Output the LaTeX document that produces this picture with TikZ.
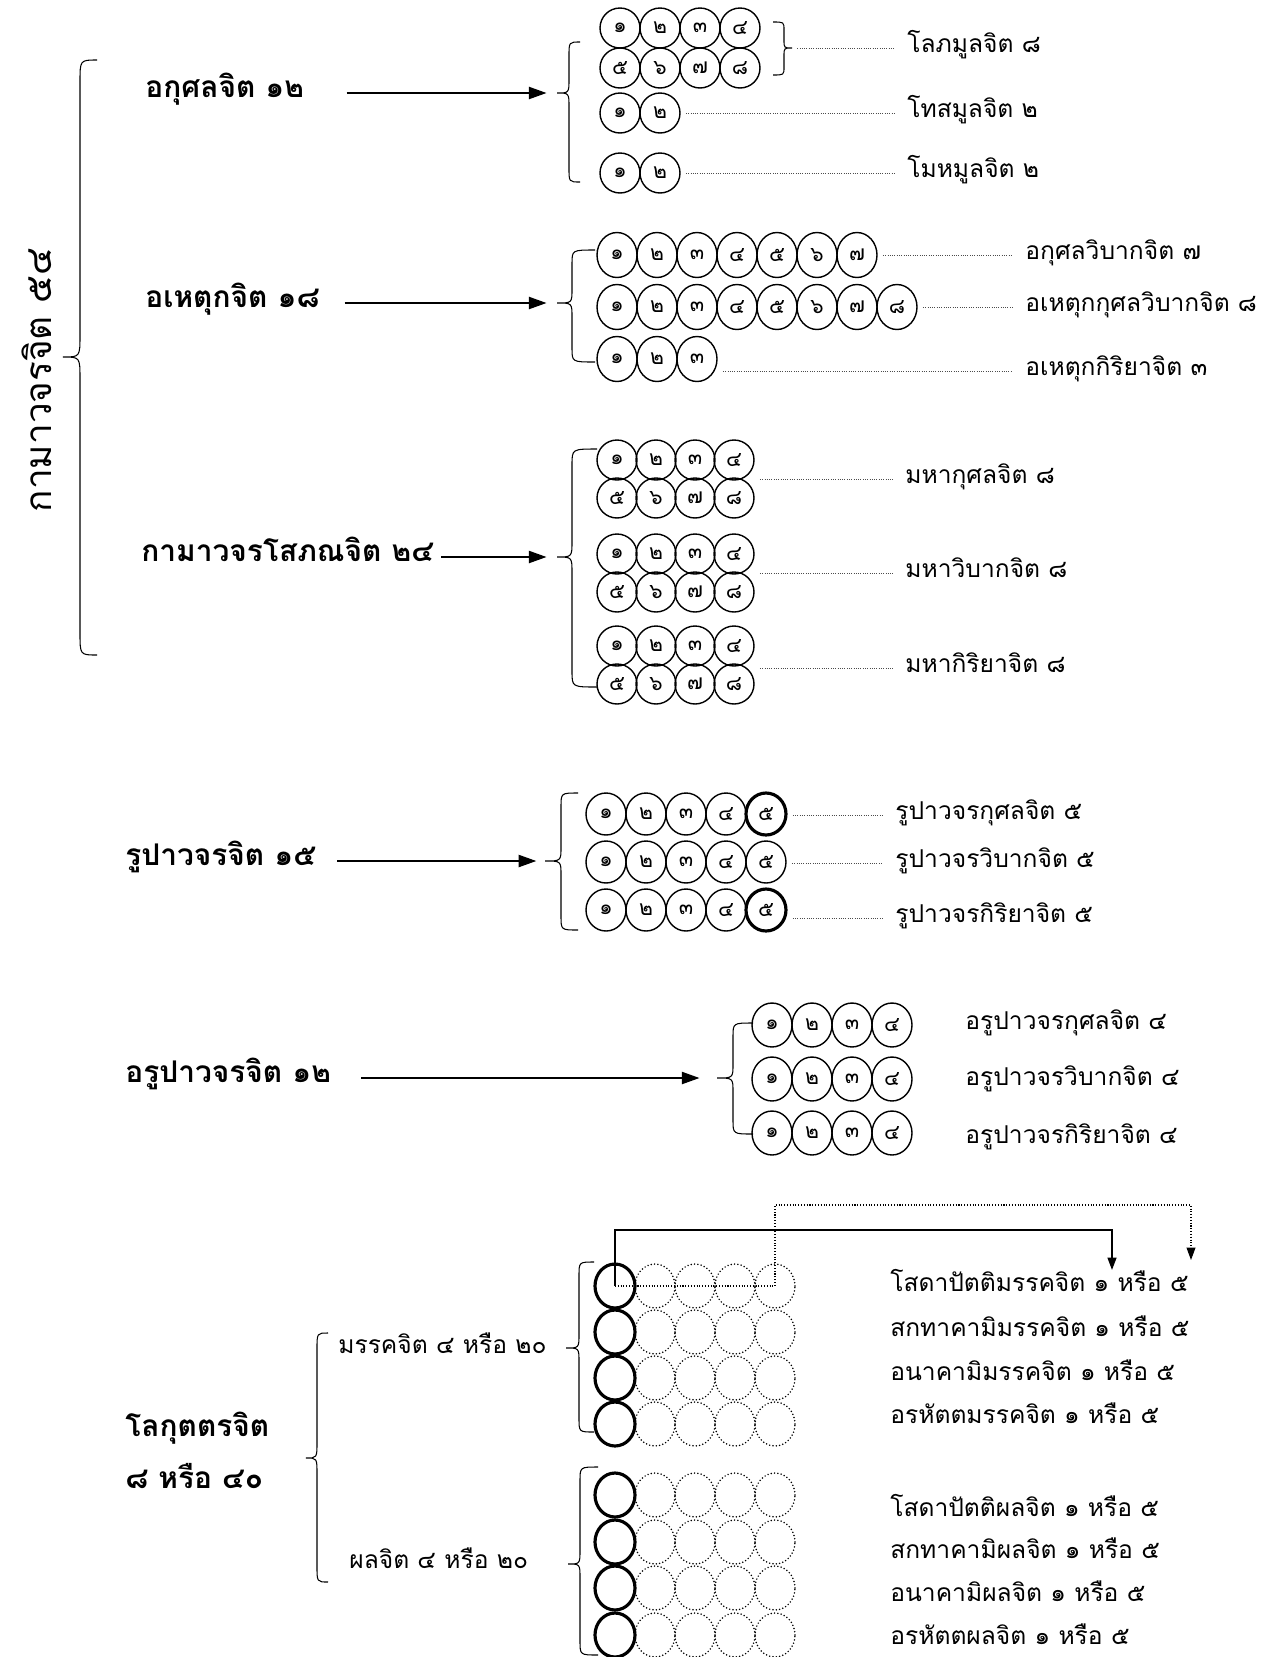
\documentclass[tikz,border=0pt]{standalone}
\usepackage{fontspec}
\setmainfont[Script=Thai]{Loma}
\usetikzlibrary{shapes.geometric,arrows.meta,positioning,calc}

% curly brace: end x, arm x, tip x, top y, tip y, bottom y, radius
\newcommand{\brc}[7]{%
  \draw[bline] (#1,#4) .. controls (#2,#4) .. (#2,#4+#7) -- (#2,#5-#7)
    .. controls (#2,#5) .. (#3,#5) .. controls (#2,#5) .. (#2,#5+#7)
    -- (#2,#6-#7) .. controls (#2,#6) .. (#1,#6);}

\begin{document}
\begin{tikzpicture}[x=0.02cm, y=-0.02cm,
        ttl/.style={font=\fontsize{21}{25}\selectfont, rotate=90, inner sep=0},
        cat/.style={font=\fontsize{17}{21}\selectfont\bfseries, anchor=west, inner sep=0, text height=0.8em, text depth=0.25em},
        lbl/.style={font=\fontsize{14}{17}\selectfont, anchor=west, inner sep=0, text height=0.8em, text depth=0.25em},
        num/.style={ellipse, draw, line width=0.8pt, inner sep=0, minimum width=0.8cm, minimum height=#1, font=\fontsize{12}{14}\selectfont},
        num/.default=0.8cm,
        numbold/.style={num=#1, line width=1.8pt}, numbold/.default=0.84cm,
        ghost/.style={num=#1, line width=0.95pt, line cap=round, dash pattern=on 0pt off 1.9pt}, ghost/.default=0.88cm,
        arrow/.style={line width=0.7pt, -{Triangle[length=10pt,width=7pt]}},
        link/.style={line width=1pt, -{Triangle[length=7pt,width=5pt]}},
        dotlink/.style={line width=0.6pt, dash pattern=on 0.6pt off 1pt, -{Triangle[length=7pt,width=5pt]}},
        leader/.style={line width=0.5pt, black!70, dash pattern=on 0.5pt off 0.8pt, shorten <=3pt, shorten >=7pt},
        bline/.style={line width=0.6pt}
    ]
    \useasboundingbox (0,0) rectangle (1270,1657);

    % outer title
    \node[ttl] (kama) at (37,380) {กามาวจรจิต ๕๔};
    \brc{97}{80}{63}{60}{357}{655}{22}

    % akusala
    \node[cat] (akusala) at (145,93) {อกุศลจิต ๑๒};
    \coordinate (tipA) at (557,93);
    \brc{580}{569}{557}{42}{93}{182}{14}
    \draw[arrow, shorten <=24pt, shorten >=6pt] (akusala.east) -- (tipA);
    \foreach \d [count=\i] in {๑,๒,๓,๔} \node[num] (a1-\i) at ({580+40*\i},28) {\d};
    \foreach \d [count=\i] in {๕,๖,๗,๘} \node[num] (a2-\i) at ({580+40*\i},68) {\d};
    \foreach \d [count=\i] in {๑,๒} \node[num] (a3-\i) at ({580+40*\i},113) {\d};
    \foreach \d [count=\i] in {๑,๒} \node[num] (a4-\i) at ({580+40*\i},173) {\d};
    \brc{773}{784}{792}{22}{48}{75}{8}
    \coordinate (brA) at (792,48);
    \node[lbl] (lobha) at (907,48) {โลภมูลจิต ๘};
    \node[lbl] (dosa) at (907,113) {โทสมูลจิต ๒};
    \node[lbl] (moha) at (907,173) {โมหมูลจิต ๒};
    \draw[leader] (brA) -- (lobha.west);
    \draw[leader] (a3-2.east |- dosa.west) -- (dosa.west);
    \draw[leader] (a4-2.east |- moha.west) -- (moha.west);

    % ahetuka
    \node[cat] (ahetuka) at (145,303) {อเหตุกจิต ๑๘};
    \coordinate (tipB) at (557,303);
    \brc{595}{572}{557}{250}{303}{362}{14}
    \draw[arrow, shorten <=14pt, shorten >=6pt] (ahetuka.east) -- (tipB);
    \foreach \d [count=\i] in {๑,๒,๓,๔,๕,๖,๗} \node[num=0.9cm] (b1-\i) at ({577+40*\i},255) {\d};
    \foreach \d [count=\i] in {๑,๒,๓,๔,๕,๖,๗,๘} \node[num=0.9cm] (b2-\i) at ({577+40*\i},307) {\d};
    \foreach \d [count=\i] in {๑,๒,๓} \node[num=0.9cm] (b3-\i) at ({577+40*\i},359) {\d};
    \node[lbl] (akvip) at (1025,255) {อกุศลวิบากจิต ๗};
    \node[lbl] (ahkvip) at (1025,307) {อเหตุกกุศลวิบากจิต ๘};
    \node[lbl] (ahkir) at (1025,371) {อเหตุกกิริยาจิต ๓};
    \draw[leader] (b1-7.east |- akvip.west) -- (akvip.west);
    \draw[leader] (b2-8.east |- ahkvip.west) -- (ahkvip.west);
    \draw[leader] (b3-3.east |- ahkir.west) -- (ahkir.west);

    % sobhana
    \node[cat] (sobhana) at (141,557) {กามาวจรโสภณจิต ๒๔};
    \coordinate (tipC) at (557,557);
    \brc{597}{572}{557}{449}{557}{687}{16}
    \draw[arrow, shorten <=4pt, shorten >=6pt] (sobhana.east) -- (tipC);
    \foreach \blk/\y in {c1/460,c2/554,c3/646}{
        \foreach \d [count=\i] in {๑,๒,๓,๔} \node[num] (\blk a\i) at ({578+39*\i},\y) {\d};
        \foreach \d [count=\i] in {๕,๖,๗,๘} \node[num] (\blk b\i) at ({578+39*\i},\y+38) {\d};
    }
    \node[lbl] (mkus) at (905,479) {มหากุศลจิต ๘};
    \node[lbl] (mvip) at (905,573) {มหาวิบากจิต ๘};
    \node[lbl] (mkir) at (905,668) {มหากิริยาจิต ๘};
    \draw[leader] (c1a4.east |- mkus.west) -- (mkus.west);
    \draw[leader] (c2a4.east |- mvip.west) -- (mvip.west);
    \draw[leader] (c3a4.east |- mkir.west) -- (mkir.west);

    % rupavacara
    \node[cat] (rupa) at (125,861) {รูปาวจรจิต ๑๕};
    \coordinate (tipD) at (545,861);
    \brc{578}{561}{545}{793}{861}{930}{14}
    \draw[arrow, shorten <=12pt, shorten >=5pt] (rupa.east) -- (tipD);
    \foreach \r/\y in {1/814,2/862,3/910}
        \foreach \d [count=\i] in {๑,๒,๓,๔} \node[num=0.84cm] (d\r-\i) at ({566+40*\i},\y) {\d};
    \node[numbold] (d1-5) at (766,814) {๕};
    \node[num=0.84cm] (d2-5) at (766,862) {๕};
    \node[numbold] (d3-5) at (766,910) {๕};
    \node[lbl] (rkus) at (895,815) {รูปาวจรกุศลจิต ๕};
    \node[lbl] (rvip) at (895,863) {รูปาวจรวิบากจิต ๕};
    \node[lbl] (rkir) at (895,918) {รูปาวจรกิริยาจิต ๕};
    \draw[leader] (d1-5.east |- rkus.west) -- (rkus.west);
    \draw[leader] (d2-5.east |- rvip.west) -- (rvip.west);
    \draw[leader] (d3-5.east |- rkir.west) -- (rkir.west);

    % arupavacara
    \node[cat] (arupa) at (125,1078) {อรูปาวจรจิต ๑๒};
    \coordinate (tipE) at (717,1078);
    \brc{753}{733}{717}{1023}{1078}{1134}{14}
    \draw[arrow, shorten <=17pt, shorten >=10pt] (arupa.east) -- (tipE);
    \foreach \r/\y in {1/1025,2/1079,3/1133}
        \foreach \d [count=\i] in {๑,๒,๓,๔} \node[num=0.88cm] (e\r-\i) at ({732+40*\i},\y) {\d};
    \node[lbl] (akus) at (965,1025) {อรูปาวจรกุศลจิต ๔};
    \node[lbl] (avip) at (965,1081) {อรูปาวจรวิบากจิต ๔};
    \node[lbl] (akir) at (965,1139) {อรูปาวจรกิริยาจิต ๔};

    % lokuttara
    \node[cat] (lokut) at (125,1432) {โลกุตตรจิต};
    \node[cat] (lokutnum) at (125,1484) {๘ หรือ ๔๐};
    \brc{328}{317}{306}{1333}{1458}{1582}{16}
    \node[lbl] (magga) at (338,1349) {มรรคจิต ๔ หรือ ๒๐};
    \node[lbl] (phala) at (349,1564) {ผลจิต ๔ หรือ ๒๐};
    \brc{594}{579}{566}{1262}{1348}{1432}{14}
    \brc{598}{580}{568}{1467}{1564}{1655}{14}
    \foreach \r/\y in {1/1286,2/1332,3/1378,4/1424}{
        \node[numbold=0.88cm] (m\r-1) at (615,\y) {};
        \foreach \i in {2,...,5} \node[ghost] (m\r-\i) at ({575+40*\i},\y) {};
    }
    \foreach \r/\y in {1/1495,2/1542,3/1588,4/1635}{
        \node[numbold=0.88cm] (p\r-1) at (615,\y) {};
        \foreach \i in {2,...,5} \node[ghost] (p\r-\i) at ({575+40*\i},\y) {};
    }
    \node[lbl] (msota) at (890,1287) {โสดาปัตติมรรคจิต ๑ หรือ ๕};
    \node[lbl] (msaka) at (890,1332) {สกทาคามิมรรคจิต ๑ หรือ ๕};
    \node[lbl] (manag) at (890,1376) {อนาคามิมรรคจิต ๑ หรือ ๕};
    \node[lbl] (marah) at (890,1419) {อรหัตตมรรคจิต ๑ หรือ ๕};
    \node[lbl] (psota) at (890,1512) {โสดาปัตติผลจิต ๑ หรือ ๕};
    \node[lbl] (psaka) at (890,1554) {สกทาคามิผลจิต ๑ หรือ ๕};
    \node[lbl] (panag) at (890,1597) {อนาคามิผลจิต ๑ หรือ ๕};
    \node[lbl] (parah) at (890,1640) {อรหัตตผลจิต ๑ หรือ ๕};
    \coordinate (solR) at (1112,1230);
    \coordinate (dotR) at (1191,1205);
    \draw[link] (m1-1.center) |- (solR) -- ++(0,40);
    \draw[dotlink] (m1-1.center) -- (m1-5.center) |- (dotR) -- ++(0,55);
\end{tikzpicture}
\end{document}
